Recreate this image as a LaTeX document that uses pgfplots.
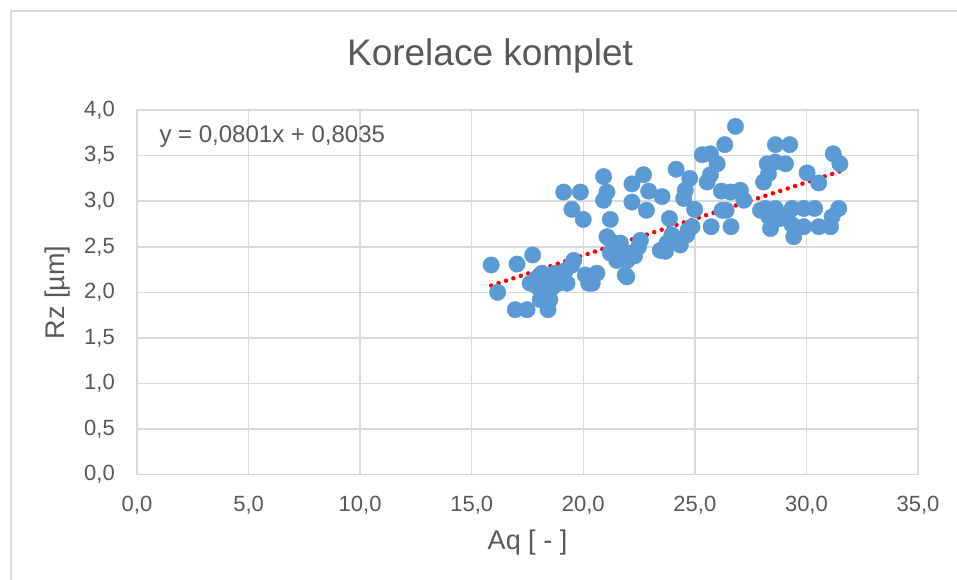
\documentclass[border=0pt]{standalone}
\usepackage{fontspec}
\setmainfont{Liberation Sans}
\usepackage{pgfplots}
\pgfplotsset{compat=1.18}
\definecolor{txt}{HTML}{595959}
\definecolor{gridc}{HTML}{D9D9D9}
\definecolor{dotc}{HTML}{5B9BD5}
\pgfplotstableread{
x y
15.87 2.30
16.16 2.00
17.03 2.31
17.73 2.41
16.95 1.81
17.48 1.81
18.42 1.81
17.62 2.10
18.15 2.21
18.74 2.21
19.12 2.12
19.49 2.30
18.07 1.92
18.37 2.03
18.50 1.92
18.90 2.10
17.90 2.15
18.30 2.15
18.60 2.05
18.20 1.98
19.20 2.24
19.27 2.10
19.57 2.35
18.00 2.05
20.91 3.27
19.12 3.10
19.87 3.10
21.06 3.10
20.91 3.01
19.49 2.91
20.00 2.80
21.21 2.80
22.18 3.19
22.70 3.29
22.93 3.11
22.18 2.99
22.83 2.90
23.53 3.05
21.06 2.61
21.21 2.43
21.66 2.54
22.11 2.43
22.48 2.50
21.96 2.35
22.56 2.57
21.50 2.35
21.80 2.45
22.30 2.40
21.30 2.55
21.88 2.19
23.45 2.46
20.09 2.19
20.61 2.21
20.24 2.10
20.40 2.10
21.95 2.17
26.82 3.82
26.34 3.62
25.33 3.51
25.70 3.52
26.00 3.41
24.16 3.35
24.77 3.25
25.55 3.21
25.70 3.29
24.57 3.12
24.50 3.03
26.19 3.11
27.04 3.12
26.60 3.10
27.20 3.01
24.99 2.91
26.22 2.90
26.40 2.90
23.86 2.81
25.73 2.72
26.62 2.72
24.87 2.72
24.64 2.63
23.97 2.63
23.75 2.54
24.35 2.52
23.68 2.45
24.70 2.68
28.61 3.62
29.25 3.62
28.24 3.41
29.06 3.41
28.60 3.43
28.08 3.21
28.30 3.30
30.03 3.31
30.55 3.20
31.20 3.52
31.50 3.41
28.16 2.92
28.61 2.92
29.36 2.92
29.88 2.92
30.37 2.92
31.45 2.92
27.94 2.90
28.39 2.70
28.83 2.81
29.43 2.61
29.36 2.74
29.88 2.72
30.55 2.72
31.08 2.72
31.15 2.83
28.31 2.83
29.13 2.83
28.50 2.78
}\datatable
\begin{document}
\begin{tikzpicture}[x=1pt,y=1pt]
\useasboundingbox (0,0) rectangle (957,580);
\fill[white] (0,0) rectangle (957,580);
\draw[gridc, line width=1.5pt] (11,-20) -- (11,569) -- (990,569);
\node[txt, font=\fontsize{37}{44}\selectfont] at (490,524) {Korelace komplet};
\begin{axis}[
  at={(137pt,105.3pt)}, anchor=south west,
  width=781pt, height=364.7pt, scale only axis,
  xmin=0, xmax=35, ymin=0, ymax=4,
  xtick distance=5, ytick distance=0.5,
  grid=major,
  major grid style={gridc, line width=1.5pt},
  axis line style={gridc, line width=1.5pt},
  tick style={draw=none},
  ticklabel style={txt, font=\fontsize{22}{26}\selectfont, inner sep=0pt},
  yticklabel style={anchor=east, xshift=-22pt},
  xticklabel style={anchor=north, yshift=-21pt},
  /pgf/number format/.cd, use comma, fixed, fixed zerofill, precision=1, assume math mode=true,
  /pgfplots/.cd,
  xlabel={Aq [ - ]}, ylabel={Rz [µm]},
  label style={txt, font=\fontsize{27}{32}\selectfont},
  xlabel style={at={(axis description cs:0.5,-0.1873)}, anchor=center},
  ylabel style={at={(axis description cs:-0.1012,0.5)}, anchor=center},
  clip=false,
]
\addplot[only marks, mark=*, mark size=8.2pt, mark options={draw=dotc, fill=dotc}] table[x=x, y=y] {\datatable};
\addplot[red, line width=4.5pt, line cap=round, dash pattern=on 0pt off 7.8pt] coordinates {(15.87,2.0747) (31.5,3.3267)};
\end{axis}
\node[txt, anchor=west, font=\fontsize{24}{29}\selectfont] at (156,443) {y = 0,0801x + 0,8035};
\end{tikzpicture}
\end{document}
